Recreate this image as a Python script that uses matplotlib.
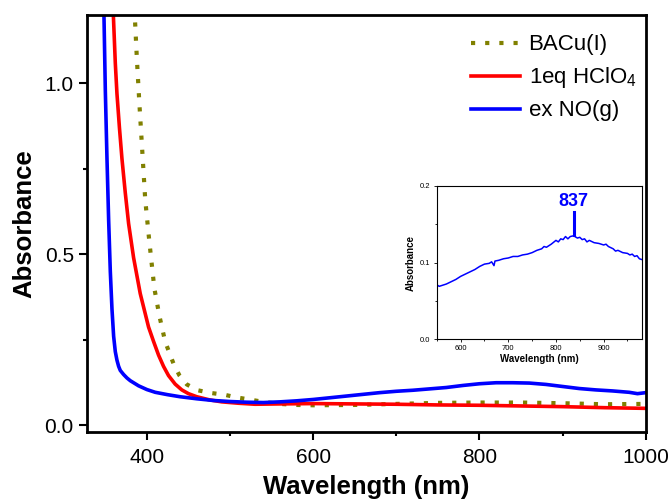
import matplotlib
matplotlib.use('Agg')
import matplotlib.pyplot as plt
from matplotlib.ticker import MultipleLocator, FormatStrFormatter

plt.rcParams['font.family'] = ['Liberation Sans', 'DejaVu Sans']
plt.rcParams['mathtext.fontset'] = 'custom'
plt.rcParams['mathtext.rm'] = 'Liberation Sans'

# BACu(I)
bacu_nm = [385, 388, 391, 394, 398, 402, 405, 409, 415, 422, 432, 439, 448, 461, 477,
           493, 508, 523, 540, 560, 580, 600, 650, 700, 750, 800, 850, 900, 950, 1000]
bacu_abs = [1.22, 1.07, 0.94, 0.82, 0.66, 0.56, 0.49, 0.40, 0.32, 0.244, 0.18, 0.146, 0.119,
            0.102, 0.094, 0.089, 0.081, 0.075, 0.068, 0.062, 0.059, 0.058, 0.059, 0.062,
            0.065, 0.066, 0.066, 0.064, 0.061, 0.062]

# 1eq HClO4
hclo4_nm = [358, 360, 362, 364, 367, 370, 374, 378, 384, 392, 402, 408, 414, 420, 426, 434,
            442, 450, 460, 475, 490, 510, 530, 560, 600, 650, 700, 750, 800, 850, 900, 950,
            1000]
hclo4_abs = [1.30, 1.18, 1.06, 0.97, 0.87, 0.78, 0.68, 0.59, 0.49, 0.385, 0.287, 0.245,
             0.205, 0.172, 0.145, 0.12, 0.103, 0.092, 0.083, 0.074, 0.068, 0.064, 0.061,
             0.062, 0.063, 0.062, 0.061, 0.059, 0.058, 0.056, 0.054, 0.051, 0.049]

# ex NO(g)
no_nm = [348, 350, 352, 354, 356, 358, 360, 362, 364, 366, 368, 372, 376, 380, 390, 400, 410,
         425, 440, 460, 480, 500, 520, 540, 560, 580, 600, 620, 640, 660, 680, 700, 720, 740,
         760, 780, 800, 820, 840, 860, 880, 900, 920, 940, 960, 980, 990, 1000]
no_abs = [1.25, 0.98, 0.78, 0.60, 0.45, 0.34, 0.26, 0.215, 0.19, 0.172, 0.16, 0.148, 0.138,
          0.13, 0.115, 0.104, 0.096, 0.089, 0.083, 0.077, 0.072, 0.069, 0.067, 0.066, 0.068,
          0.071, 0.075, 0.080, 0.085, 0.090, 0.095, 0.099, 0.102, 0.106, 0.110, 0.116, 0.121,
          0.124, 0.124, 0.123, 0.119, 0.113, 0.107, 0.103, 0.100, 0.096, 0.092, 0.095]

# inset: ex NO(g) zoom
inset_nm = [550, 555, 560, 570, 580, 590, 600, 610, 620, 630, 640, 650, 660, 665, 670, 672,
            680, 690, 700, 710, 720, 730, 740, 750, 760, 770, 775, 780, 790, 800, 805, 810,
            815, 820, 825, 830, 837, 845, 850, 855, 860, 865, 870, 880, 890, 900, 905, 910,
            920, 925, 930, 940, 950, 955, 960, 965, 970, 975, 980]
inset_abs = [0.071, 0.069, 0.070, 0.072, 0.075, 0.078, 0.082, 0.085, 0.088, 0.091, 0.095,
             0.098, 0.099, 0.101, 0.096, 0.102, 0.103, 0.105, 0.106, 0.108, 0.108, 0.110,
             0.111, 0.113, 0.116, 0.118, 0.121, 0.120, 0.124, 0.129, 0.127, 0.131, 0.130,
             0.134, 0.131, 0.134, 0.135, 0.132, 0.133, 0.130, 0.131, 0.127, 0.129, 0.126,
             0.125, 0.123, 0.124, 0.121, 0.118, 0.115, 0.116, 0.113, 0.112, 0.110, 0.111,
             0.108, 0.109, 0.105, 0.104]
peak_nm = 837
peak_abs = 0.136

fig = plt.figure(figsize=(6.72, 5.04), dpi=100)
ax = fig.add_axes([0.1295, 0.143, 0.8315, 0.827])

ax.plot(bacu_nm, bacu_abs, color='#808000', lw=3, dashes=(1, 2.4), label='BACu(I)')
ax.plot(hclo4_nm, hclo4_abs, color='#ff0000', lw=2.6, label=r'1eq HClO$_\mathregular{4}$')
ax.plot(no_nm, no_abs, color='#0000ff', lw=2.6, label='ex NO(g)')

ax.set_xlim(328, 1000)
ax.set_ylim(-0.02, 1.2)
ax.xaxis.set_major_locator(MultipleLocator(200))
ax.xaxis.set_minor_locator(MultipleLocator(100))
ax.yaxis.set_major_locator(MultipleLocator(0.5))
ax.yaxis.set_minor_locator(MultipleLocator(0.25))
ax.yaxis.set_major_formatter(FormatStrFormatter('%.1f'))
ax.tick_params(which='major', length=6, width=1.5, labelsize=15, direction='out')
ax.tick_params(axis='x', which='major', pad=5.5)
ax.tick_params(which='minor', length=3, width=1.5, direction='out')
for s in ax.spines.values():
    s.set_linewidth(2)
ax.set_xlabel('Wavelength (nm)', fontsize=18.5, fontweight='bold', labelpad=6)
ax.set_ylabel('Absorbance', fontsize=18.5, fontweight='bold', labelpad=6)

ax.legend(loc='upper left', bbox_to_anchor=(0.671, 0.975), frameon=False, fontsize=16,
          handlelength=2.2, handletextpad=0.4, labelspacing=0.45, borderaxespad=0)

# inset
axi = fig.add_axes([0.650, 0.327, 0.305, 0.304])
axi.plot(inset_nm, inset_abs, color='#0000ff', lw=1.1)
axi.plot([peak_nm, peak_nm], [peak_abs, 0.166], color='#0000ff', lw=2.2)
axi.text(peak_nm, 0.168, '837', color='#0000ff', fontsize=13, fontweight='bold',
         ha='center', va='bottom')
axi.set_xlim(550, 980)
axi.set_ylim(0, 0.2)
axi.xaxis.set_major_locator(MultipleLocator(100))
axi.xaxis.set_minor_locator(MultipleLocator(50))
axi.yaxis.set_major_locator(MultipleLocator(0.1))
axi.yaxis.set_minor_locator(MultipleLocator(0.05))
axi.yaxis.set_major_formatter(FormatStrFormatter('%.1f'))
axi.tick_params(which='major', length=2.5, width=0.6, labelsize=5.5, pad=2)
axi.tick_params(which='minor', length=1.5, width=0.6)
for s in axi.spines.values():
    s.set_linewidth(0.8)
axi.set_xlabel('Wavelength (nm)', fontsize=7, fontweight='bold', labelpad=1)
axi.set_ylabel('Absorbance', fontsize=7, fontweight='bold', labelpad=3)

plt.savefig('out.png', dpi=100)
